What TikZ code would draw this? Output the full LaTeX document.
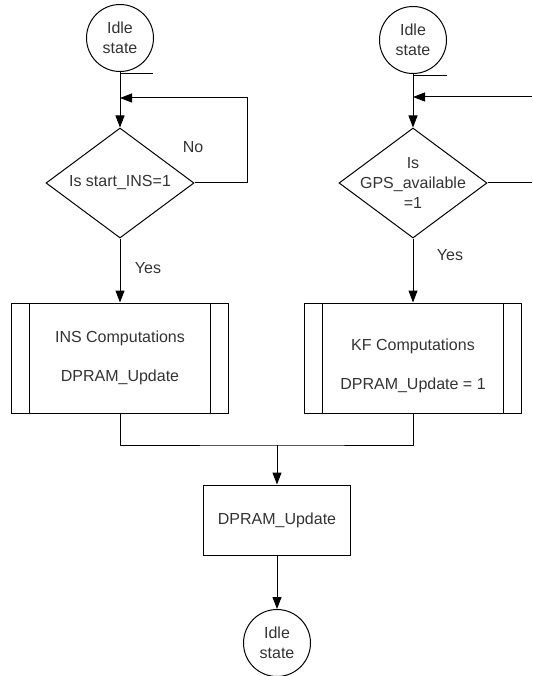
\documentclass[tikz,border=0pt]{standalone}
\usepackage{fontspec}
\setmainfont{Liberation Sans}
\usetikzlibrary{shapes,arrows.meta,positioning,calc}

\begin{document}
\begin{tikzpicture}[x=1pt, y=-1pt, line width=1pt,
    >={Triangle[length=12pt,width=9pt]},
    font=\fontsize{16}{20}\selectfont, text=black!80,
    idle/.style={draw, circle, minimum size=67pt, inner sep=0pt, align=center},
    decision/.style={draw, diamond, aspect=1.345, minimum width=148pt, minimum height=110pt, inner sep=0pt, align=center},
    subproc/.style={draw, rectangle, minimum width=217pt, minimum height=110pt, align=center,
        path picture={
            \draw ([xshift=18pt]path picture bounding box.north west) -- ([xshift=18pt]path picture bounding box.south west);
            \draw ([xshift=-18pt]path picture bounding box.north east) -- ([xshift=-18pt]path picture bounding box.south east);}},
    process/.style={draw, rectangle, minimum width=147pt, minimum height=70pt, align=center}]
    \useasboundingbox (0,0) rectangle (532,676);

    \node (idle1) [idle] at (120,38) {Idle\\state};
    \node (check) [decision, below of=idle1, node distance=145pt] {Is start\_INS=1};
    \node (ins) [subproc, below of=check, node distance=175pt] {INS Computations\\[19pt]DPRAM\_Update};

    \node (idle2) [idle] at (413,40) {Idle\\state};
    \node (gps) [decision, below of=idle2, node distance=143pt, inner sep=-7pt] {Is\\GPS\_available\\=1};
    \node (kf) [subproc, below of=gps, node distance=175pt] {\mbox{}\\[7.5pt]KF Computations\\[19pt]DPRAM\_Update = 1};

    \node (upd) [process] at (277,520) {DPRAM\_Update};
    \node (idle3) [idle, below of=upd, node distance=123pt] {Idle\\state};

    \node (no) at (193,147) {No};
    \node (yes1) at (148,268) {Yes};
    \node (yes2) at (450,255) {Yes};

    \coordinate (loop1) at (120,98);
    \coordinate (loop2) at (413,97);
    \coordinate (edge1) at (532,183);
    \coordinate (edge2) at (532,97);
    \coordinate (merge) at (277,445);

    \draw [->] (idle1) -- (check);
    \draw [->] (check.east) -- ++(53,0) |- (loop1);
    \draw [->] (check) -- (ins);
    \draw [->] (idle2.south) -- (gps.north);
    \draw (gps.east) -- (edge1);
    \draw [->] (edge2) -- (loop2);
    \draw [->] (gps.south) -- (kf.north);
    \draw (ins.south) |- (merge) -| (kf.south);
    \draw [->] (merge) -- (upd);
    \draw [->] (upd) -- (idle3);
    \draw (idle1.south) ++(0,2) -- ++(33,0);
    \draw (idle2.south) ++(0,2) -- ++(34,0);
\end{tikzpicture}
\end{document}
